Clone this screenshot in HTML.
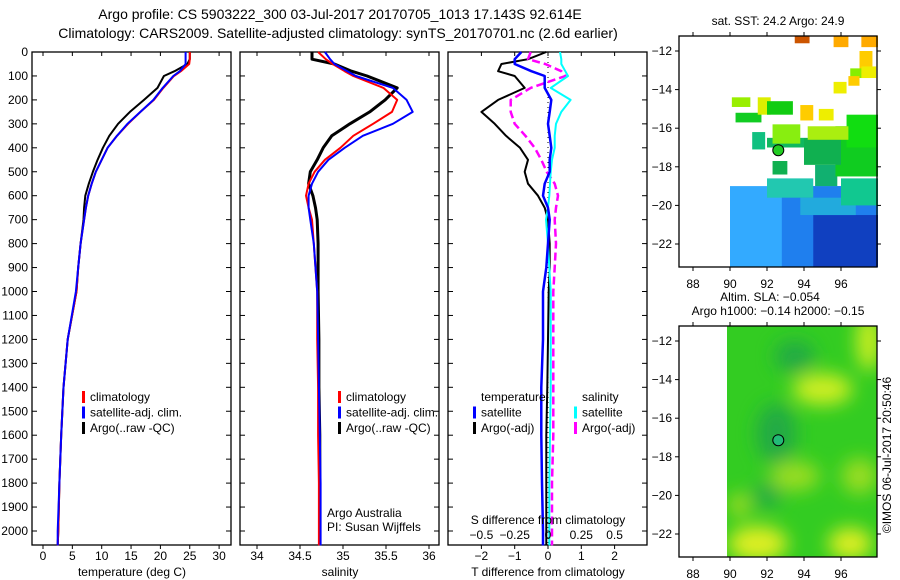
<!DOCTYPE html>
<html><head><meta charset="utf-8"><style>
body{margin:0;background:#fff;}
svg{display:block;font-family:"Liberation Sans",sans-serif;}
</style></head><body>
<svg id="c" width="900" height="580" viewBox="0 0 900 580">
<defs><filter id="bl" x="-50%" y="-50%" width="200%" height="200%"><feGaussianBlur stdDeviation="9"/></filter>
<clipPath id="m2c"><rect x="727" y="326" width="150" height="231"/></clipPath></defs>
<text x="340" y="19" font-size="14" text-anchor="middle">Argo profile: CS 5903222_300 03-Jul-2017 20170705_1013 17.143S 92.614E</text>
<text x="338" y="38" font-size="14" text-anchor="middle">Climatology: CARS2009. Satellite-adjusted climatology: synTS_20170701.nc (2.6d earlier)</text>
<g id="g"></g>
<text x="891" y="455" font-size="12" text-anchor="middle" transform="rotate(-90 891 455)">©IMOS 06-Jul-2017 20:50:46</text>
</svg>
<script>
// depth levels (dbar)
const depth = [0,30,50,80,100,150,200,250,300,350,400,450,500,550,600,650,700,800,900,1000,1200,1400,1600,1800,2000,2060];
// temperature (deg C)
const tClim = [25,25,24.9,23.5,22.3,20.5,18.9,16.6,14.5,12.6,11,10,9,8.3,7.7,7.3,7,6.4,6,5.7,4.2,3.5,3.1,2.8,2.6,2.5];
const tSat  = [24.3,24.3,24.3,23.3,22.2,20.4,18.8,16.6,14.4,12.6,11,10,9,8.3,7.7,7.3,7,6.4,6,5.6,4.2,3.5,3.1,2.8,2.5,2.5];
const tArgo = [25,25,24.6,22.4,20.6,19.5,17.2,14.8,12.8,11.3,10.2,9.3,8.5,7.8,7.2,7,6.9,6.4,6,5.7,4.2,3.5,3.1,2.8,2.6,2.5];
// salinity (psu)
const sClim = [34.71,34.8,34.88,35.02,35.12,35.47,35.63,35.57,35.35,35.12,34.97,34.79,34.67,34.6,34.57,34.6,34.64,34.66,34.68,34.7,34.7,34.71,34.71,34.72,34.72,34.72];
const sSat  = [34.79,34.85,34.9,35.05,35.15,35.58,35.74,35.81,35.58,35.23,35.02,34.83,34.71,34.64,34.6,34.6,34.62,34.66,34.68,34.7,34.71,34.72,34.73,34.74,34.74,34.74];
const sArgo = [34.64,34.64,34.9,35.1,35.28,35.63,35.49,35.31,35.08,34.87,34.77,34.7,34.62,34.6,34.65,34.68,34.7,34.71,34.71,34.71,34.72,34.72,34.73,34.73,34.73,34.73];
// differences from climatology
const dTsat  = [-0.8,-1,-1,-0.5,-0.1,-0.1,0.1,0.05,0,0.05,0.1,0.05,0.05,-0.1,-0.15,0,0.05,0,-0.05,-0.15,-0.15,-0.2,-0.2,-0.18,-0.15,-0.15];
const dTargo = [-0.05,-0.6,-1.4,-1.5,-1,-0.7,-1.5,-2,-1.6,-1.26,-0.84,-0.6,-0.7,-0.6,-0.3,-0.1,0,0.05,0.05,0.02,0,-0.02,-0.05,-0.05,-0.05,-0.05];
const dSsat  = [0.09,0.1,0.1,0.13,0.15,0.02,0.17,0.1,0.06,0.05,0.05,0.03,0.02,0.015,0.01,0,-0.015,0,0.01,0.02,0.02,0.02,0.015,0.01,0.01,0.01];
const dSargo = [-0.13,-0.15,-0.02,0.1,0.13,-0.13,-0.28,-0.28,-0.25,-0.17,-0.1,-0.05,-0.01,0.05,0.075,0.06,0.05,0.06,0.05,0.04,0.04,0.04,0.04,0.03,0.03,0.03];
const depthTicks = [0,100,200,300,400,500,600,700,800,900,1000,1100,1200,1300,1400,1500,1600,1700,1800,1900,2000];
const tTicks = [0,5,10,15,20,25,30];
const sTicks = [34,34.5,35,35.5,36];
const dtTicks = [-2,-1,0,1,2];
const dsTicks = [-0.5,-0.25,0,0.25,0.5];
const lonTicks = [88,90,92,94,96];
const latTicks = [-12,-14,-16,-18,-20,-22];

const NS="http://www.w3.org/2000/svg", G=document.getElementById('g');
function el(t,a,p){const e=document.createElementNS(NS,t);for(const k in a)e.setAttribute(k,a[k]);(p||G).appendChild(e);return e;}
function txt(x,y,s,sz,anc,p){const e=el('text',{x:x,y:y,'font-size':sz||12,'text-anchor':anc||'middle'},p);e.textContent=s;return e;}
const Y = d => 52 + d*0.2395;
const xT = t => 43 + t*5.87;
const xS = s => 257 + (s-34)*86;
const xDT = t => 548 + t*33.3;
const xDS = s => 548 + s*133.2;

function panel(x0,name){
  el('rect',{x:x0,y:52,width:199,height:493,fill:'none',stroke:'#000','stroke-width':1.3});
  const gg=el('g',{});
  
  
  depthTicks.forEach(d=>{el('line',{x1:x0,x2:x0+5,y1:Y(d),y2:Y(d),stroke:'#000'});el('line',{x1:x0+194,x2:x0+199,y1:Y(d),y2:Y(d),stroke:'#000'});});
  return gg;
}
function line(xs,xf,col,w,name,dash){
  const pts=depth.map((d,i)=>xf(xs[i]).toFixed(1)+','+Y(d).toFixed(1)).join(' ');
  const p=el('polyline',{points:pts,fill:'none',stroke:col,'stroke-width':w,'stroke-linejoin':'round'});
  if(dash)p.setAttribute('stroke-dasharray',dash);
  
  
}
function xticks(x0,ticks,f,label){
  ticks.forEach(t=>{const x=f(t);el('line',{x1:x,x2:x,y1:545,y2:549,stroke:'#000'});el('line',{x1:x,x2:x,y1:52,y2:56,stroke:'#000'});txt(x,560,String(t).replace('-','\u2212'),12);});
  const l=txt(x0+100,576,label,12);
  
  
}
function legend(x,y,items){
  items.forEach((it,i)=>{el('rect',{x:x,y:y+i*15.5-10,width:3,height:12,fill:it[0]});txt(x+8,y+i*15.5,it[1],12,'start');});
}
depthTicks.forEach(d=>{const t=txt(28,Y(d)+4,String(d),12,'end');});

// panel 1
panel(32,'temperature-panel');
xticks(32,tTicks,xT,'temperature (deg C)');
line(tArgo,xT,'#000',2,'argo-temperature-line');
line(tClim,xT,'#f00',2,'clim-temperature-line');
line(tSat,xT,'#00f',2,'sat-temperature-line');
legend(82,401,[['#f00','climatology'],['#00f','satellite-adj. clim.'],['#000','Argo(..raw -QC)']]);

// panel 2
panel(240,'salinity-panel');
xticks(240,sTicks,xS,'salinity');
line(sArgo,xS,'#000',3,'argo-salinity-line');
line(sClim,xS,'#f00',2,'clim-salinity-line');
line(sSat,xS,'#00f',2,'sat-salinity-line');
legend(338,401,[['#f00','climatology'],['#00f','satellite-adj. clim.'],['#000','Argo(..raw -QC)']]);
txt(327,517,'Argo Australia',12,'start');
txt(327,531,'PI: Susan Wijffels',12,'start');

// panel 3
panel(448,'difference-panel');
xticks(448,dtTicks,xDT,'T difference from climatology');
el('line',{x1:548,x2:548,y1:52,y2:545,stroke:'#000','stroke-dasharray':'1,4'});
line(dTargo,xDT,'#000',2,'argo-t-diff-line');
line(dSargo,xDS,'#f0f',2.5,'argo-s-diff-line','8,4');
line(dSsat,xDS,'#0ff',2,'sat-s-diff-line');
line(dTsat,xDT,'#00f',2.5,'sat-t-diff-line');
dsTicks.forEach(s=>{txt(xDS(s),539,String(s).replace('-','\u2212'),12);});
txt(548,524,'S difference from climatology',12);
txt(481,401,'temperature',12,'start');
legend(473,416.5,[['#00f','satellite'],['#000','Argo(-adj)']]);
txt(582,401,'salinity',12,'start');
legend(574,416.5,[['#0ff','satellite'],['#f0f','Argo(-adj)']]);

// maps
const mx = lon => 693 + (lon-88)*18.5;
function map(y0,ylat12,name){
  const g=el('g',{});
  
  
  const my = lat => ylat12 + (-12-lat)*19.3;
  return {g:g,my:my,frame:()=>{
    el('rect',{x:679,y:y0,width:198,height:231,fill:'none',stroke:'#000','stroke-width':1.3});
    lonTicks.forEach(l=>{el('line',{x1:mx(l),x2:mx(l),y1:y0+231,y2:y0+235,stroke:'#000'});el('line',{x1:mx(l),x2:mx(l),y1:y0,y2:y0-4,stroke:'#000'});txt(mx(l),y0+252,String(l),12);});
    latTicks.forEach(l=>{el('line',{x1:675,x2:679,y1:my(l),y2:my(l),stroke:'#000'});el('line',{x1:877,x2:881,y1:my(l),y2:my(l),stroke:'#000'});txt(672,my(l)+4,String(l).replace('-','\u2212'),12,'end');});
  }};
}
const m1=map(36,51,'sst-map');
const blocks=[[90,-19,8,-23.2,'#33aaff'],[92.8,-19,5.1,-23.2,'#1f7fee'],[94.5,-20.5,3.5,-23.2,'#1040c0'],[93.8,-19.6,3,-20.5,'#22aadd'],
[92,-18.6,2.5,-19.6,'#22c8b0'],[96,-18.6,2,-20,'#11c890'],[94.6,-17.9,1.2,-19,'#11b070'],
[95.7,-15.9,2.3,-18.5,'#10cc20'],[96.3,-15.3,1.7,-17,'#11dd11'],[94,-16.5,2,-17.9,'#10b050'],
[92,-16.5,2,-17,'#10b860'],[91.2,-16.2,0.7,-17.1,'#10c080'],[92.3,-17.7,0.8,-18.4,'#10b050'],
[92.3,-15.8,1.5,-16.8,'#88ee10'],[94.2,-15.9,2.2,-16.6,'#aaee10'],[90.3,-15.2,1.4,-15.7,'#11cc22'],
[90.1,-14.4,1,-14.9,'#99ee00'],[91.5,-14.4,0.7,-15.3,'#ddee00'],[92,-14.6,1.4,-15.3,'#11cc11'],
[93.8,-14.8,0.7,-15.6,'#ffcc00'],[94.8,-15,0.8,-15.6,'#eeee00'],[95.6,-13.6,0.7,-14.2,'#eeee00'],
[93.5,-11.2,0.8,-11.6,'#cc5500'],[95.6,-11.2,0.8,-11.8,'#ffaa00'],[97.1,-11.2,0.9,-11.8,'#ffaa00'],[97,-12,0.7,-13.2,'#ffcc00'],[96.5,-12.9,1.1,-13.4,'#88ee00'],[96.4,-13.3,0.6,-13.8,'#ffcc00'],[97.1,-12.8,0.8,-13.4,'#eeee00']];
blocks.forEach(b=>{el('rect',{x:mx(b[0]),y:m1.my(b[1]),width:b[2]*18.5,height:(b[1]-b[3])*19.3,fill:b[4]},m1.g);});
const c1=el('circle',{cx:mx(92.61),cy:m1.my(-17.14),r:5.5,fill:'#22cc22',stroke:'#000'});


m1.frame();
txt(778,25,'sat. SST: 24.2 Argo: 24.9',12);
const m2=map(326,341,'sla-map');
const gc=el('g',{'clip-path':'url(#m2c)'},m2.g);
el('rect',{x:727,y:326,width:150,height:231,fill:'#33cc22'},gc);
const fz=el('g',{filter:'url(#bl)'},gc);
[[95,-14.5,30,16,'#ccee22'],[97.5,-12,12,30,'#ccee22'],[93.5,-19,25,15,'#99dd22'],[97,-19,18,18,'#99dd22'],
[91.5,-22.5,30,18,'#ddee22'],[96.5,-22.5,22,16,'#ddee22'],[90.5,-20.5,10,12,'#aadd22'],[92.5,-16.8,20,30,'#22aa44'],[93.5,-12.8,20,16,'#22aa44'],[92,-20,14,12,'#22aa44']].forEach(b=>{
 el('ellipse',{cx:mx(b[0]),cy:m2.my(b[1]),rx:b[2],ry:b[3],fill:b[4]},fz);});
const c2=el('circle',{cx:mx(92.61),cy:m2.my(-17.14),r:5.5,fill:'#22bb77',stroke:'#000'});


m2.frame();
txt(770,301,'Altim. SLA: \u22120.054',12);
txt(778,315,'Argo h1000: \u22120.14 h2000: \u22120.15',12);
</script>
</body></html>
